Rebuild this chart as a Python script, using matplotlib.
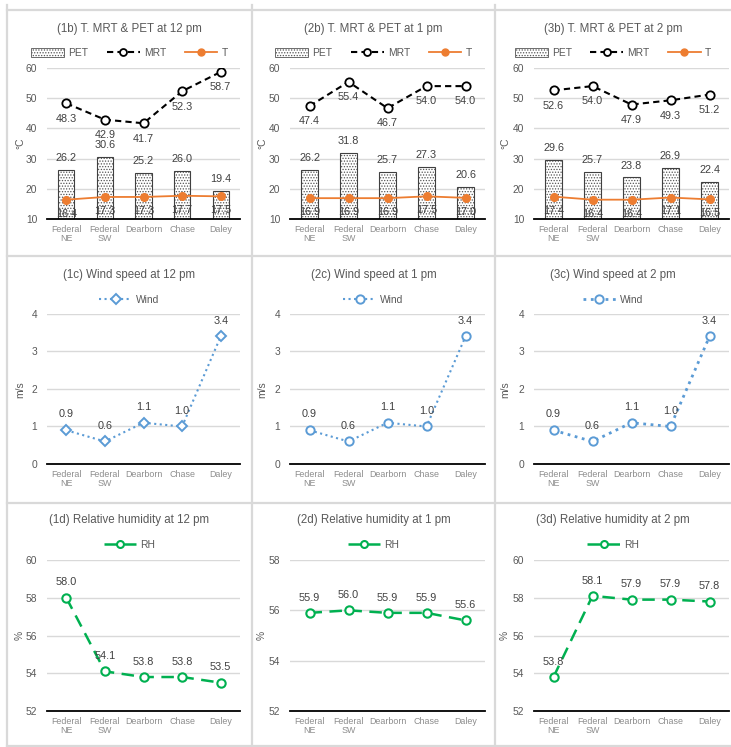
import matplotlib as mpl
mpl.use('Agg')
import matplotlib.pyplot as plt
from matplotlib.lines import Line2D
from matplotlib.patches import Patch

plt.rcParams['font.family'] = ['Liberation Sans', 'DejaVu Sans']
plt.rcParams['hatch.linewidth'] = 0.6

W, H = 731, 747

sites = ['Federal\nNE', 'Federal\nSW', 'Dearborn', 'Chase', 'Daley']
times = ['12 pm', '1 pm', '2 pm']

# PET / MRT / air temperature, one list per hour
pet_12 = [26.2, 30.6, 25.2, 26.0, 19.4]
mrt_12 = [48.3, 42.9, 41.7, 52.3, 58.7]
t_12 = [16.4, 17.3, 17.3, 17.7, 17.5]
pet_1 = [26.2, 31.8, 25.7, 27.3, 20.6]
mrt_1 = [47.4, 55.4, 46.7, 54.0, 54.0]
t_1 = [16.9, 16.9, 16.9, 17.5, 17.0]
pet_2 = [29.6, 25.7, 23.8, 26.9, 22.4]
mrt_2 = [52.6, 54.0, 47.9, 49.3, 51.2]
t_2 = [17.4, 16.4, 16.4, 17.1, 16.5]

# wind speed (m/s)
wind_12 = [0.9, 0.6, 1.1, 1.0, 3.4]
wind_1 = [0.9, 0.6, 1.1, 1.0, 3.4]
wind_2 = [0.9, 0.6, 1.1, 1.0, 3.4]

# relative humidity (%)
rh_12 = [58.0, 54.1, 53.8, 53.8, 53.5]
rh_1 = [55.9, 56.0, 55.9, 55.9, 55.6]
rh_2 = [53.8, 58.1, 57.9, 57.9, 57.8]
rh_top = [60, 58, 60]

ORANGE = '#ED7D31'
BLUE = '#5B9BD5'
GREEN = '#00B050'
GRID = '#d9d9d9'
TXT = '#595959'
LBL = '#404040'

col_x = [(47, 240), (290, 485), (534, 729)]
row_y = [(68, 219), (314, 464), (560, 711)]
cell_cx = [129.5, 373.5, 613]
title_y = [29, 275, 520]
legend_y = [53, 300, 545]
ylab_x = [20, 262, 505]
ylab_y = [143, 390, 635]

titles = ['T. MRT & PET at %s', 'Wind speed at %s', 'Relative humidity at %s']
ylabels = ['°C', 'm/s', '%']
xs = list(range(len(sites)))

fig = plt.figure(figsize=(W / 100, H / 100), dpi=100)

# table cell borders
for x in [7, 252, 495]:
    fig.add_artist(Line2D([x / W, x / W], [1 - 5 / H, 1 - 747 / H], color=GRID, lw=1.6))
for y in [10, 256, 503, 746]:
    fig.add_artist(Line2D([7 / W, 1], [1 - y / H, 1 - y / H], color=GRID, lw=1.6))


def make_ax(r, c):
    (x0, x1), (y0, y1) = col_x[c], row_y[r]
    ax = fig.add_axes([x0 / W, 1 - y1 / H, (x1 - x0) / W, (y1 - y0) / H])
    for s in ['top', 'right', 'left']:
        ax.spines[s].set_visible(False)
    ax.spines['bottom'].set_color('black')
    ax.spines['bottom'].set_linewidth(1.3)
    ax.spines['bottom'].set_zorder(5)
    ax.grid(axis='y', color=GRID, lw=1.0)
    ax.set_axisbelow(True)
    ax.tick_params(axis='both', length=0)
    ax.tick_params(axis='y', labelsize=7.4, labelcolor=TXT, pad=7)
    ax.tick_params(axis='x', labelsize=6.4, labelcolor='#8c8c8c', pad=4)
    ax.set_xlim(-0.5, 4.5)
    ax.set_xticks(xs)
    ax.set_xticklabels(sites, linespacing=1.1)
    fig.text(cell_cx[c] / W, 1 - title_y[r] / H, '(%d%s) %s' % (c + 1, 'bcd'[r], titles[r] % times[c]),
             ha='center', va='center', fontsize=8.3, color=TXT)
    fig.text(ylab_x[c] / W, 1 - ylab_y[r] / H, ylabels[r], rotation=90,
             ha='center', va='center', fontsize=7.4, color=TXT)
    return ax


def labels(ax, vals, dy):
    for x, v in zip(xs, vals):
        ax.annotate('%.1f' % v, (x, v), xytext=(0, dy), textcoords='offset points',
                    ha='center', va='center', fontsize=7.8, color=LBL, zorder=6)


def legend(r, c, handles, names):
    fig.legend(handles, names, loc='center', ncol=len(names), frameon=False,
               bbox_to_anchor=(cell_cx[c] / W, 1 - legend_y[r] / H),
               fontsize=7.4, labelcolor=TXT, handlelength=3.2, handletextpad=0.4,
               columnspacing=1.8, handleheight=0.9)


# row 1: PET bars with MRT and T lines
for c, (pet, mrt, t) in enumerate([(pet_12, mrt_12, t_12), (pet_1, mrt_1, t_1), (pet_2, mrt_2, t_2)]):
    ax = make_ax(0, c)
    ax.bar(xs, pet, width=0.42, color='white', edgecolor='#555555', hatch='......', lw=0, zorder=2)
    ax.bar(xs, pet, width=0.42, fill=False, edgecolor='#404040', lw=0.8, zorder=2)
    ax.plot(xs, t, color=ORANGE, lw=1.3, marker='o', ms=5.5, mfc=ORANGE, mec=ORANGE, zorder=3)
    ax.plot(xs, mrt, color='black', lw=1.5, ls=(0, (3, 2)), marker='o', ms=6, mfc='white',
            mec='black', mew=1.3, zorder=4)
    ax.set_ylim(10, 60)
    ax.set_yticks(range(10, 61, 10))
    labels(ax, pet, 8.5)
    labels(ax, mrt, -11)
    labels(ax, t, -10)
    pet_h = Patch(facecolor='white', edgecolor='#555555', hatch='......', lw=0.6)
    mrt_h = Line2D([], [], color='black', lw=1.5, ls=(0, (3, 2)), marker='o', ms=5,
                   mfc='white', mec='black', mew=1.3)
    t_h = Line2D([], [], color=ORANGE, lw=1.3, marker='o', ms=5, mfc=ORANGE, mec=ORANGE)
    legend(0, c, [pet_h, mrt_h, t_h], ['PET', 'MRT', 'T'])

# row 2: wind speed
for c, (wind, mk, lw) in enumerate([(wind_12, 'D', 1.5), (wind_1, 'o', 1.5), (wind_2, 'o', 2.0)]):
    ax = make_ax(1, c)
    ms = 5 if mk == 'D' else 6
    ax.plot(xs, wind, color=BLUE, lw=lw, ls=':', marker=mk, ms=ms, mfc='white', mec=BLUE,
            mew=1.4, zorder=4)
    ax.set_ylim(0, 4)
    ax.set_yticks(range(0, 5))
    labels(ax, wind, 11.5)
    h = Line2D([], [], color=BLUE, lw=lw, ls=':', marker=mk, ms=ms, mfc='white', mec=BLUE, mew=1.4)
    legend(1, c, [h], ['Wind'])

# row 3: relative humidity
for c, rh in enumerate([rh_12, rh_1, rh_2]):
    ax = make_ax(2, c)
    ax.plot(xs, rh, color=GREEN, lw=1.8, ls=(0, (5, 3)), marker='o', ms=6, mfc='white',
            mec=GREEN, mew=1.5, zorder=4)
    ax.set_ylim(52, rh_top[c])
    ax.set_yticks(range(52, rh_top[c] + 1, 2))
    labels(ax, rh, 11)
    h = Line2D([], [], color=GREEN, lw=1.8, ls=(0, (5, 3)), marker='o', ms=5, mfc='white',
               mec=GREEN, mew=1.5)
    legend(2, c, [h], ['RH'])

fig.savefig('out.png', dpi=100)
